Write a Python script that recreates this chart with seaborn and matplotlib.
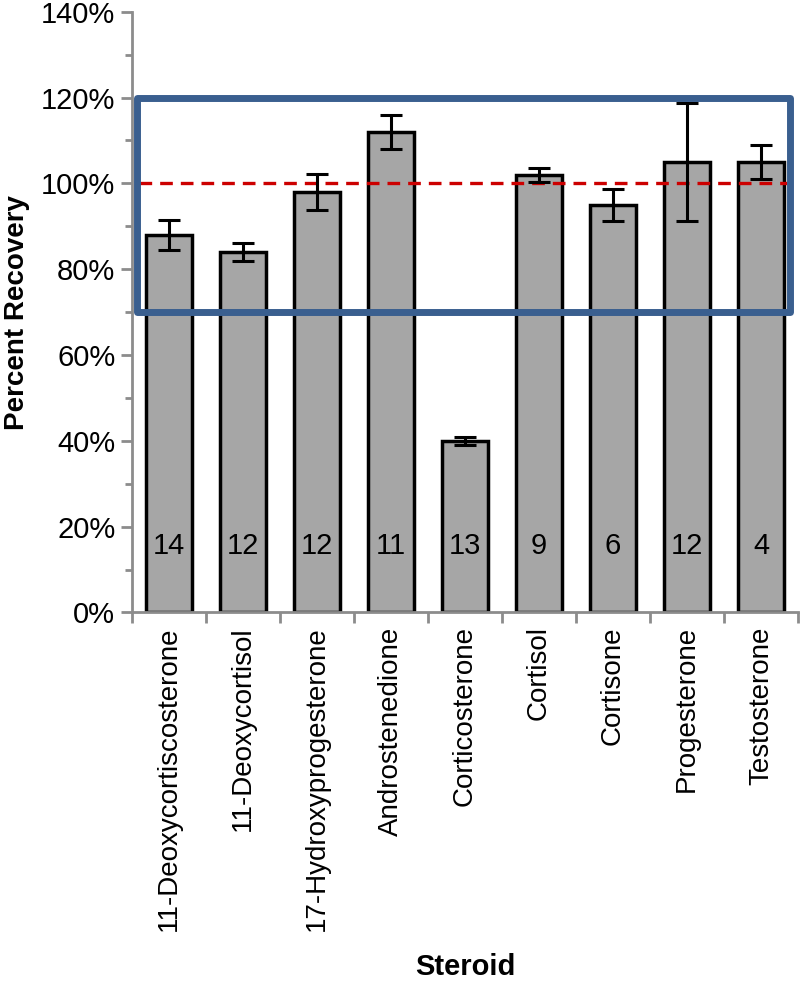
import matplotlib

matplotlib.use("Agg")

import matplotlib.pyplot as plt  # noqa: E402
import numpy as np  # noqa: E402
import pandas as pd  # noqa: E402
import seaborn as sns  # noqa: E402
from matplotlib.patches import Rectangle  # noqa: E402
from matplotlib.ticker import FixedLocator, MultipleLocator, PercentFormatter  # noqa: E402

steroids = [
    "11-Deoxycortiscosterone", "11-Deoxycortisol", "17-Hydroxyprogesterone",
    "Androstenedione", "Corticosterone", "Cortisol", "Cortisone",
    "Progesterone", "Testosterone",
]
recovery = [88, 84, 98, 112, 40, 102, 95, 105, 105]
error = [3.5, 2.0, 4.2, 4.0, 1.0, 1.6, 3.8, 13.7, 4.0]
n_samples = [14, 12, 12, 11, 13, 9, 6, 12, 4]

window_low, window_high = 70, 120
target = 100

df = pd.DataFrame({"Steroid": steroids, "Recovery": recovery})

sns.set_theme(style="white")
plt.rcParams["font.family"] = ["Liberation Sans", "DejaVu Sans"]
plt.rcParams["text.color"] = "black"
plt.rcParams["axes.labelcolor"] = "black"

fig = plt.figure(figsize=(8, 9.83), dpi=100)
ax = fig.add_axes([0.165, 0.377, 0.8325, 0.611])

sns.barplot(data=df, x="Steroid", y="Recovery", color="#a6a6a6", saturation=1,
            width=0.62, edgecolor="black", linewidth=2.5, errorbar=None, ax=ax)

xs = np.arange(len(steroids))
ax.errorbar(xs, recovery, yerr=error, fmt="none", ecolor="black",
            elinewidth=2.2, capsize=8, capthick=2.2, zorder=4)

for x, n in zip(xs, n_samples):
    ax.text(x, 15.5, str(n), ha="center", va="center", fontsize=21, zorder=5)

ax.hlines(target, -0.4, 8.35, colors="#cc0000", linestyles=(0, (3.8, 2.4)),
          linewidth=2.4, zorder=3)

ax.add_patch(Rectangle((-0.43, window_low), 8.82, window_high - window_low,
                       fill=False, edgecolor="#3a5f8f", linewidth=5,
                       joinstyle="round", zorder=6, clip_on=False))

ax.set_xlim(-0.5, 8.5)
ax.set_ylim(0, 140)
ax.yaxis.set_major_locator(MultipleLocator(20))
ax.yaxis.set_minor_locator(MultipleLocator(10))
ax.yaxis.set_major_formatter(PercentFormatter(decimals=0))
ax.xaxis.set_minor_locator(FixedLocator(np.arange(-0.5, 9, 1)))

for side in ["top", "right"]:
    ax.spines[side].set_visible(False)
for side in ["left", "bottom"]:
    ax.spines[side].set_color("#8c8c8c")
    ax.spines[side].set_linewidth(2)

ax.tick_params(axis="y", which="both", direction="out", color="#8c8c8c",
               width=2, labelsize=21, labelcolor="black", left=True, pad=4)
ax.tick_params(axis="y", which="major", length=8)
ax.tick_params(axis="y", which="minor", length=5)
ax.tick_params(axis="x", which="major", length=0, labelsize=20,
               labelcolor="black", labelrotation=90, pad=10)
ax.tick_params(axis="x", which="minor", length=8, width=2,
               color="#8c8c8c", bottom=True)

ax.set_xlabel("Steroid", fontsize=21, fontweight="bold", labelpad=16)
ax.set_ylabel("Percent Recovery", fontsize=20, fontweight="bold", labelpad=8)

fig.savefig("out.png", dpi=100)
